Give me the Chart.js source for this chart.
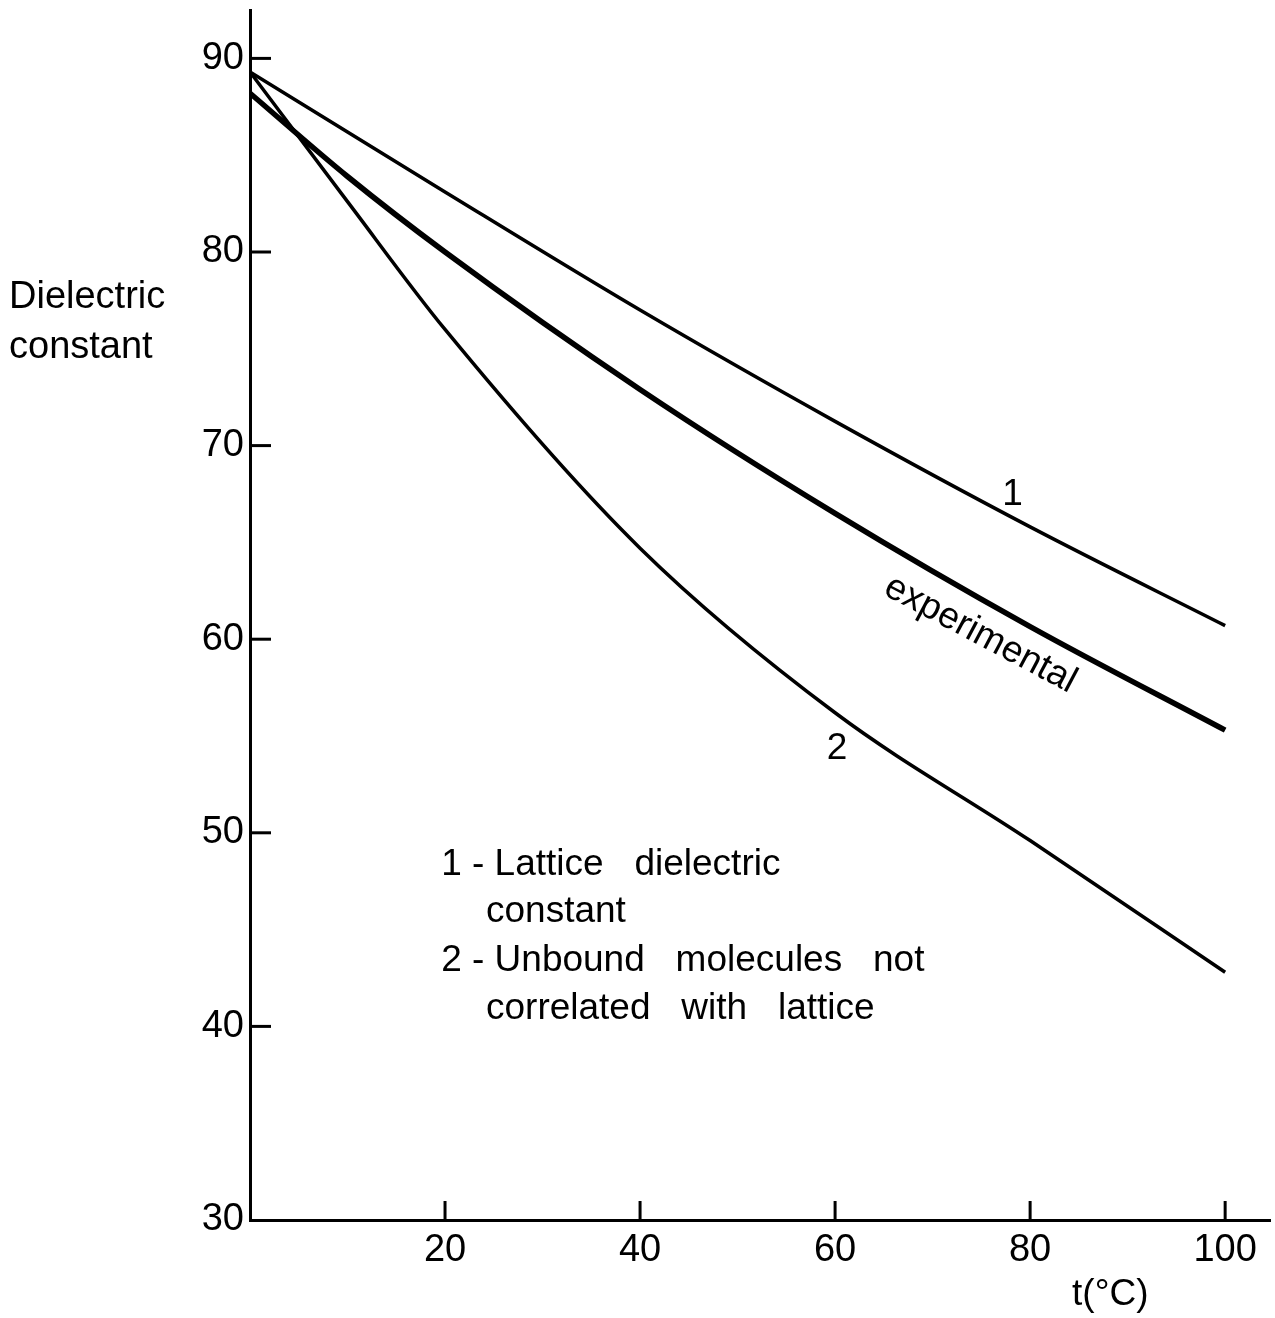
<!DOCTYPE html>
<html>
<head>
<meta charset="utf-8">
<script src="https://cdn.jsdelivr.net/npm/chart.js@4"></script>
<style>
  body { margin: 0; background: #fff; }
  canvas { display: block; }
</style>
</head>
<body>
<canvas id="myChart" width="1275" height="1318"></canvas>
<script>
// values (t in °C)
const temps = [0, 10, 20, 40, 60, 80, 100];
const lattice = [89.3, 86.2, 83.1, 77.0, 71.25, 65.8, 60.7];
const experimental = [88.2, 83.9, 80.0, 72.9, 66.5, 60.65, 55.3];
const unbound = [89.3, 82.6, 76.0, 64.7, 56.2, 49.6, 42.8];

const xTicks = [20, 40, 60, 80, 100];
const yTicks = [30, 40, 50, 60, 70, 80, 90];

const FONT = '"Liberation Sans", Arial, sans-serif';

function pts(values) {
    return temps.map((t, i) => ({ x: t, y: values[i] }));
}

const annotations = {
    id: 'annotations',
    afterDraw(chart) {
        const ctx = chart.ctx;
        const x = chart.scales.x;
        const y = chart.scales.y;
        const area = chart.chartArea;

        ctx.save();
        ctx.strokeStyle = '#000';
        ctx.lineWidth = 3;
        // inward tick marks
        xTicks.forEach(v => {
            const px = x.getPixelForValue(v);
            ctx.beginPath();
            ctx.moveTo(px, area.bottom);
            ctx.lineTo(px, area.bottom - 19);
            ctx.stroke();
        });
        yTicks.filter(v => v > 30).forEach(v => {
            const py = y.getPixelForValue(v);
            ctx.beginPath();
            ctx.moveTo(area.left, py);
            ctx.lineTo(area.left + 21, py);
            ctx.stroke();
        });

        ctx.fillStyle = '#000';
        ctx.font = '38px ' + FONT;
        ctx.textBaseline = 'alphabetic';

        // y axis title, horizontal at left
        ctx.textAlign = 'left';
        ctx.fillText('Dielectric', 9, y.getPixelForValue(77.1));
        ctx.fillText('constant', 9, y.getPixelForValue(74.5));

        // x axis title
        ctx.font = '37px ' + FONT;
        ctx.fillText('t(°C)', x.getPixelForValue(84.3), 1305);

        // curve labels
        ctx.textAlign = 'center';
        ctx.fillText('1', x.getPixelForValue(78.2), y.getPixelForValue(66.95));
        ctx.fillText('2', x.getPixelForValue(60.2), y.getPixelForValue(53.8));

        ctx.save();
        ctx.translate(x.getPixelForValue(74.9), y.getPixelForValue(60.25));
        ctx.rotate(28 * Math.PI / 180);
        ctx.textBaseline = 'middle';
        ctx.fillText('experimental', 0, 0);
        ctx.restore();

        // key
        ctx.textAlign = 'left';
        ctx.fillText('1 - Lattice   dielectric', x.getPixelForValue(19.6), y.getPixelForValue(47.83));
        ctx.fillText('constant', x.getPixelForValue(24.2), y.getPixelForValue(45.4));
        ctx.fillText('2 - Unbound   molecules   not', x.getPixelForValue(19.6), y.getPixelForValue(42.84));
        ctx.fillText('correlated   with   lattice', x.getPixelForValue(24.2), y.getPixelForValue(40.36));
        ctx.restore();
    }
};

const ctx = document.getElementById('myChart').getContext('2d');
const myChart = new Chart(ctx, {
    type: 'line',
    data: {
        datasets: [{
            label: '1 - Lattice dielectric constant',
            data: pts(lattice),
            borderColor: '#000',
            borderWidth: 3.5
        }, {
            label: 'experimental',
            data: pts(experimental),
            borderColor: '#000',
            borderWidth: 5.5
        }, {
            label: '2 - Unbound molecules not correlated with lattice',
            data: pts(unbound),
            borderColor: '#000',
            borderWidth: 3.5
        }]
    },
    options: {
        responsive: false,
        animation: false,
        layout: {
            padding: { top: 10, right: 5, left: 0, bottom: 0 }
        },
        elements: {
            point: { radius: 0 },
            line: { cubicInterpolationMode: 'monotone', fill: false }
        },
        plugins: {
            legend: { display: false },
            tooltip: { enabled: false }
        },
        scales: {
            x: {
                type: 'linear',
                min: 0,
                max: 104.6,
                afterBuildTicks: s => { s.ticks = xTicks.map(v => ({ value: v })); },
                afterFit: s => { s.height = 98; s.paddingLeft = 0; s.paddingRight = 0; },
                grid: { display: false, drawTicks: false },
                border: { display: true, color: '#000', width: 3 },
                ticks: {
                    color: '#000',
                    font: { family: FONT, size: 38 },
                    padding: 8,
                    maxRotation: 0,
                    autoSkip: false
                }
            },
            y: {
                min: 30,
                max: 92.5,
                afterBuildTicks: s => { s.ticks = yTicks.map(v => ({ value: v })); },
                afterFit: s => { s.width = 250; s.paddingTop = 0; s.paddingBottom = 0; },
                grid: { display: false, drawTicks: false },
                border: { display: true, color: '#000', width: 3 },
                ticks: {
                    color: '#000',
                    font: { family: FONT, size: 38 },
                    padding: 6,
                    autoSkip: false
                }
            }
        }
    },
    plugins: [annotations]
});
</script>
</body>
</html>
